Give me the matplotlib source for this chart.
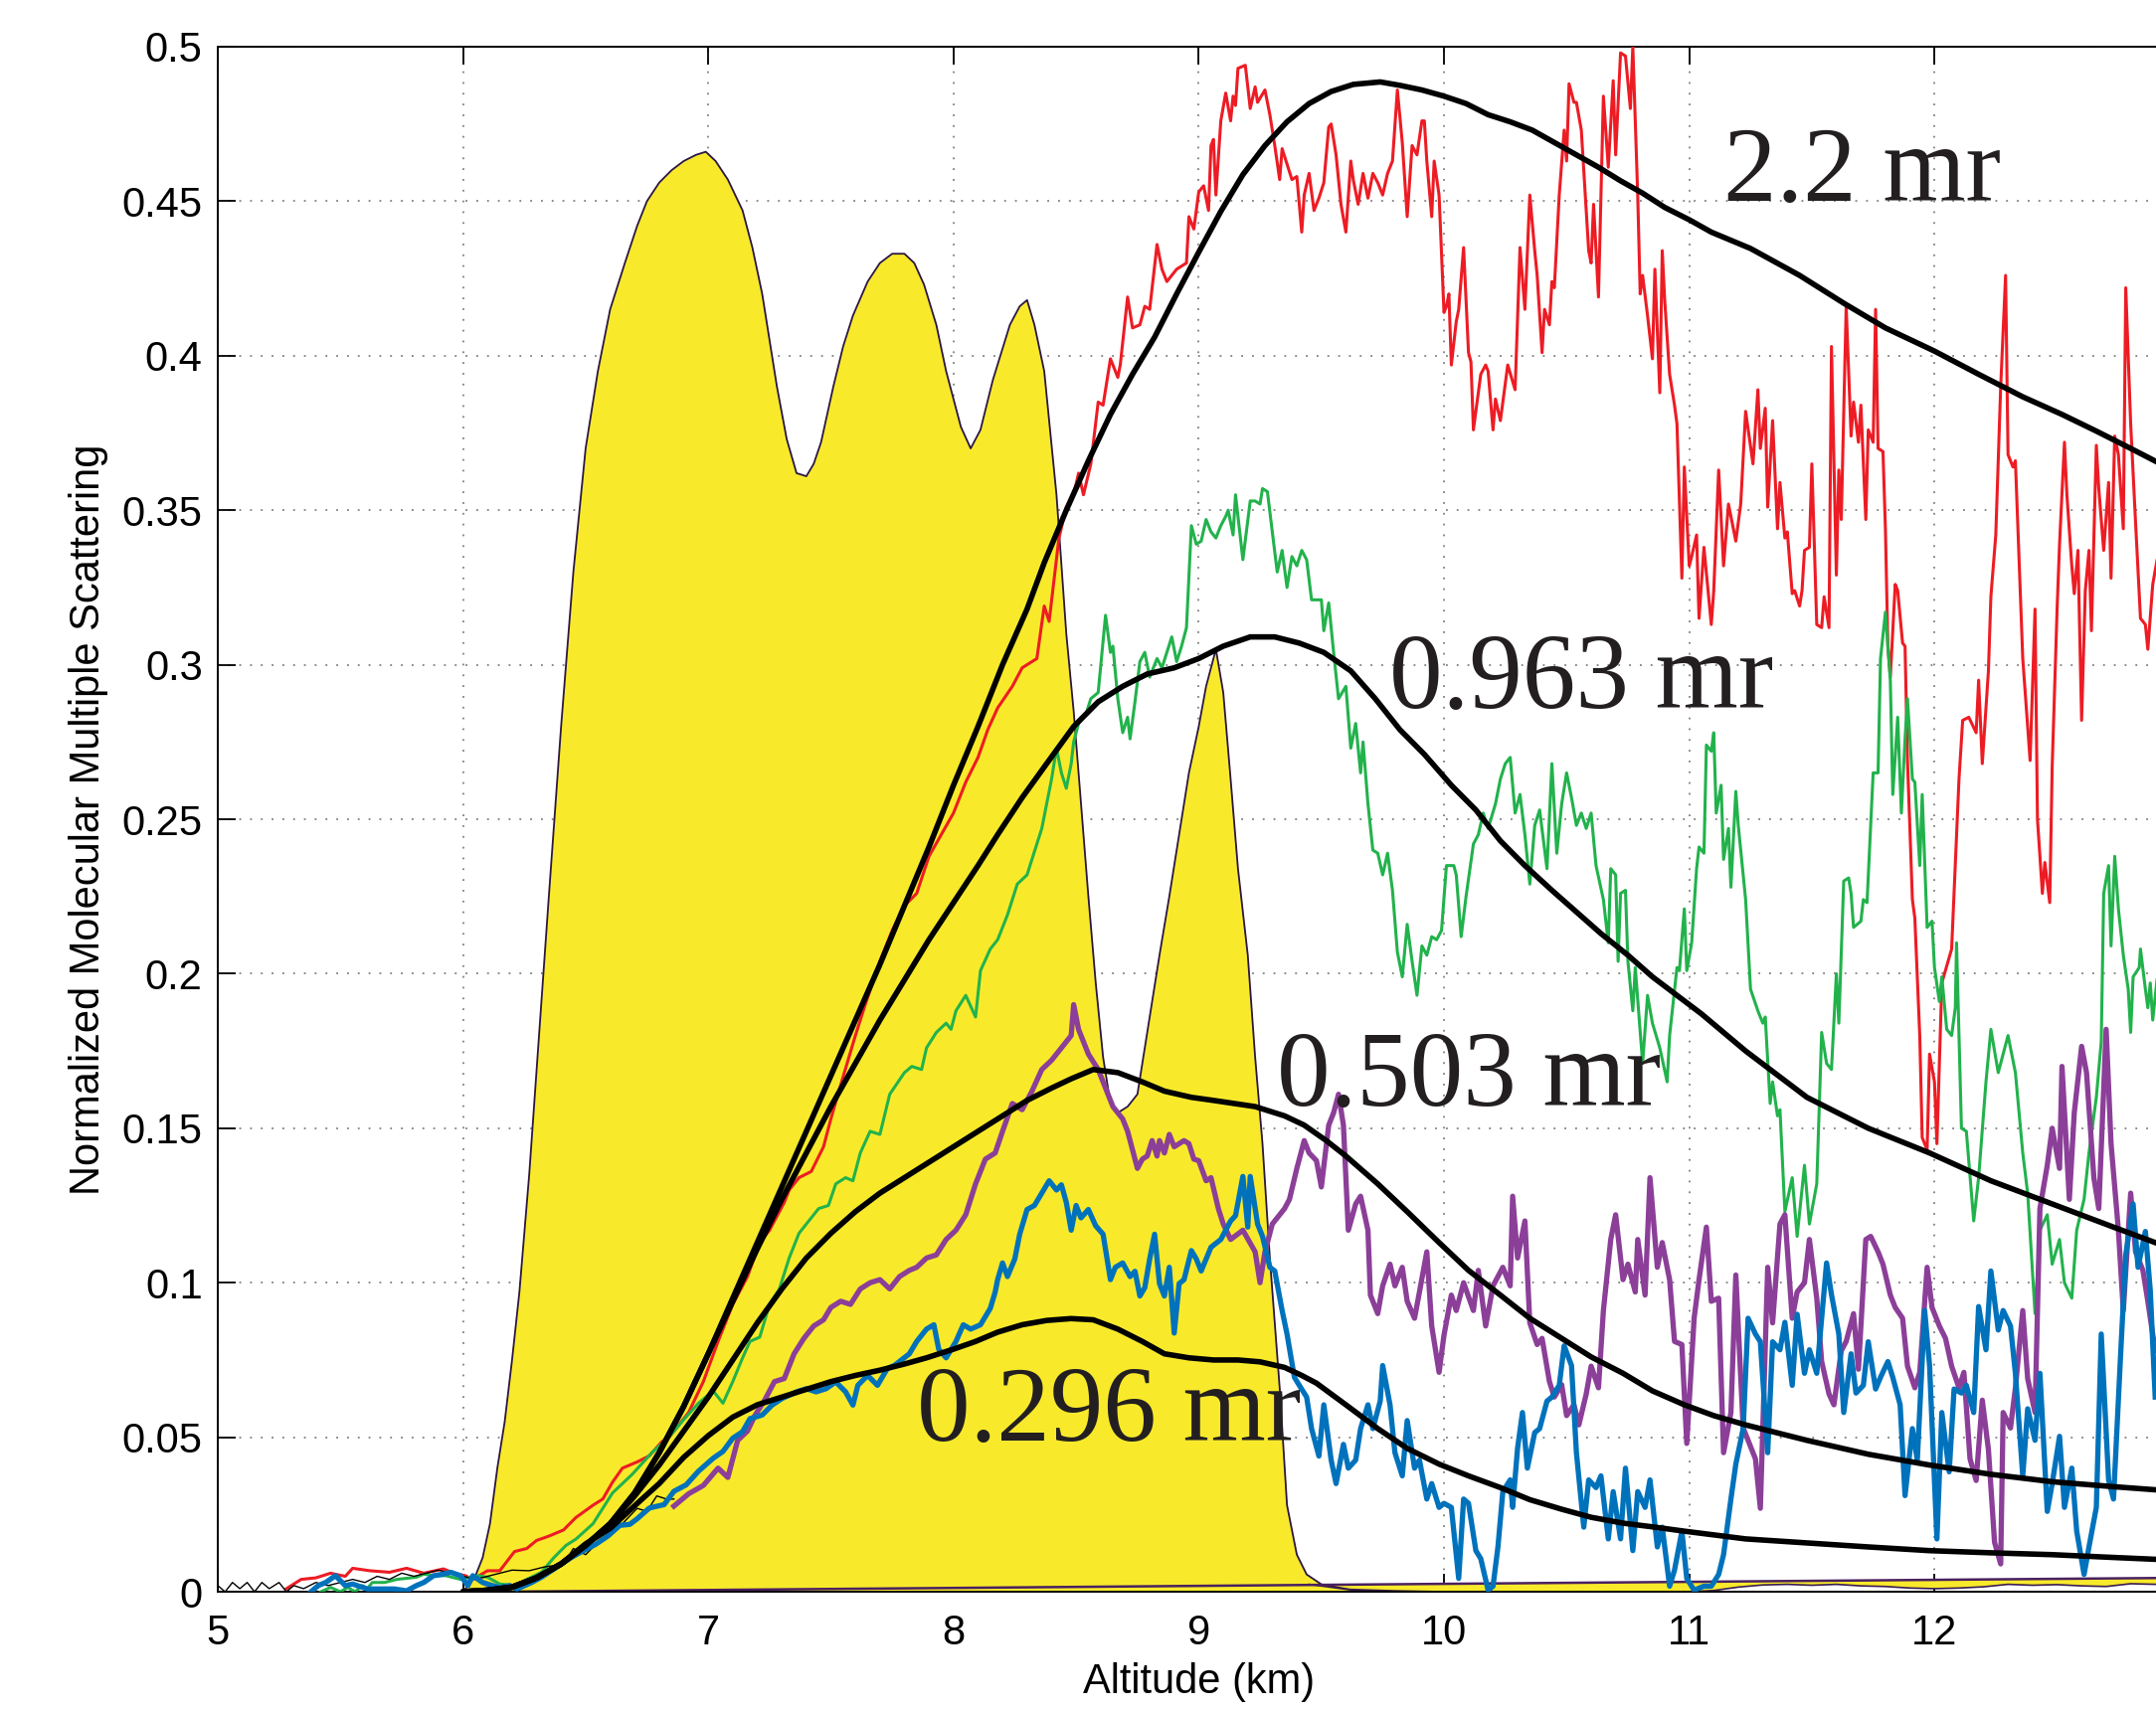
import matplotlib
matplotlib.use('Agg')
import matplotlib.pyplot as plt
import numpy as np

plt.rcParams['font.family'] = ['Liberation Sans', 'DejaVu Sans']

# cloud profile (yellow area), (altitude km, value)
cloud = [(5.0,0.0),(6.0,0.0),(6.05,0.005),(6.08,0.011),(6.11,0.022),(6.14,0.040),(6.17,0.055),(6.20,0.075),(6.23,0.097),(6.27,0.135),
         (6.31,0.180),(6.35,0.225),(6.40,0.280),(6.45,0.330),(6.50,0.370),(6.55,0.395),(6.60,0.415),(6.66,0.430),(6.71,0.442),(6.75,0.450),
         (6.80,0.456),(6.85,0.460),(6.90,0.463),(6.95,0.465),(6.99,0.466),(7.03,0.463),(7.08,0.457),(7.14,0.447),(7.18,0.435),(7.22,0.420),
         (7.25,0.405),(7.28,0.390),(7.32,0.373),(7.36,0.362),(7.40,0.361),(7.43,0.365),(7.46,0.372),(7.51,0.390),(7.55,0.403),(7.59,0.413),
         (7.65,0.424),(7.70,0.430),(7.75,0.433),(7.80,0.433),(7.84,0.430),(7.88,0.423),(7.93,0.410),(7.97,0.395),(8.03,0.377),(8.07,0.370),
         (8.11,0.376),(8.16,0.392),(8.23,0.410),(8.27,0.416),(8.30,0.418),(8.33,0.410),(8.37,0.395),(8.42,0.355),(8.46,0.310),(8.49,0.285),
         (8.52,0.255),(8.55,0.225),(8.58,0.197),(8.61,0.173),(8.64,0.158),(8.67,0.155),(8.71,0.157),(8.75,0.161),(8.79,0.181),(8.84,0.206),
         (8.88,0.225),(8.92,0.245),(8.96,0.265),(9.00,0.280),(9.03,0.293),(9.07,0.305),(9.10,0.291),(9.13,0.263),(9.16,0.234),(9.20,0.206),
         (9.23,0.173),(9.26,0.145),(9.29,0.108),(9.33,0.066),(9.36,0.028),(9.40,0.012),(9.44,0.0056),(9.50,0.0024),(9.63,0.0005),(9.75,0.0)]
cloud_floor = [(9.45,0.0024),(9.6,0.0008),(9.8,0.0003),(10.0,0.0),(10.5,0.0),(11.0,0.0),(11.1,0.0004),(11.2,0.0015),(11.3,0.0022),
               (11.4,0.0024),(11.5,0.0021),(11.6,0.0024),(11.7,0.0019),(11.8,0.0017),(11.9,0.0012),(12.0,0.0010),(12.1,0.0012),
               (12.2,0.0016),(12.3,0.0024),(12.4,0.0021),(12.5,0.0023),(12.6,0.0019),(12.7,0.0017),(12.8,0.0026),(12.9,0.0024),(13.0,0.0025)]
cloud_top = [(6.15,0.0),(9.45,0.0022),(13.0,0.0045)]

# measured, 2.2 mr
red = [(5.28,0.001),(5.34,0.004),(5.40,0.0045),(5.46,0.006),(5.52,0.005),(5.55,0.0076),(5.62,0.0068),(5.70,0.0063),(5.77,0.0076),(5.84,0.006),
       (5.92,0.0074),(5.97,0.0058),(6.01,0.0052),(6.04,0.004),(6.10,0.0068),(6.15,0.0068),(6.21,0.013),(6.26,0.014),(6.30,0.0166),(6.35,0.018),
       (6.41,0.020),(6.46,0.024),(6.53,0.028),(6.57,0.030),(6.61,0.0355),(6.65,0.040),(6.71,0.042),(6.76,0.044),(6.81,0.0485),(6.84,0.050),
       (6.92,0.058),(6.98,0.068),(7.04,0.081),(7.10,0.093),(7.16,0.102),(7.21,0.113),(7.25,0.117),(7.31,0.126),(7.33,0.130),(7.37,0.134),
       (7.42,0.136),(7.47,0.144),(7.50,0.153),(7.54,0.164),(7.60,0.180),(7.64,0.190),(7.70,0.204),(7.75,0.214),(7.80,0.222),(7.85,0.226),
       (7.90,0.238),(7.95,0.245),(8.00,0.252),(8.05,0.262),(8.10,0.270),(8.14,0.279),(8.18,0.286),(8.24,0.293),(8.28,0.299),(8.34,0.302),
       (8.37,0.319),(8.39,0.314),(8.43,0.341),(8.46,0.351),(8.49,0.355),(8.51,0.362),(8.53,0.355),(8.56,0.365),(8.59,0.385),(8.61,0.384),
       (8.64,0.399),(8.67,0.393),(8.68,0.397),(8.71,0.419),(8.73,0.409),(8.76,0.410),(8.78,0.416),(8.80,0.415),(8.83,0.436),(8.85,0.428),
       (8.87,0.424),(8.91,0.428),(8.95,0.430),(8.96,0.445),(8.98,0.441),(9.00,0.453),(9.02,0.455),(9.04,0.447),(9.05,0.468),(9.06,0.470),
       (9.07,0.452),(9.09,0.476),(9.11,0.485),(9.13,0.476),(9.14,0.484),(9.15,0.481),(9.16,0.493),(9.19,0.494),(9.21,0.480),(9.23,0.487),
       (9.24,0.482),(9.27,0.486),(9.29,0.478),(9.31,0.468),(9.33,0.457),(9.34,0.467),(9.36,0.462),(9.38,0.457),(9.40,0.458),(9.42,0.440),
       (9.43,0.452),(9.45,0.459),(9.47,0.447),(9.49,0.451),(9.51,0.456),(9.53,0.474),(9.54,0.475),(9.56,0.465),(9.58,0.449),(9.60,0.440),
       (9.62,0.463),(9.63,0.457),(9.65,0.449),(9.67,0.459),(9.69,0.451),(9.71,0.459),(9.73,0.456),(9.75,0.452),(9.77,0.459),(9.79,0.463),
       (9.81,0.486),(9.83,0.469),(9.85,0.445),(9.87,0.468),(9.89,0.465),(9.91,0.476),(9.92,0.476),(9.93,0.463),(9.95,0.445),(9.96,0.463),
       (9.98,0.452),(10.00,0.414),(10.01,0.416),(10.02,0.420),(10.03,0.397),(10.05,0.411),(10.06,0.415),(10.08,0.435),(10.10,0.401),(10.11,0.398),
       (10.12,0.376),(10.15,0.394),(10.17,0.397),(10.18,0.395),(10.20,0.376),(10.21,0.386),(10.23,0.379),(10.26,0.397),(10.29,0.389),(10.31,0.435),
       (10.33,0.415),(10.35,0.452),(10.37,0.434),(10.38,0.426),(10.40,0.401),(10.41,0.415),(10.43,0.410),(10.44,0.424),(10.45,0.422),(10.47,0.452),
       (10.49,0.473),(10.50,0.463),(10.51,0.488),(10.53,0.482),(10.54,0.482),(10.56,0.473),(10.59,0.434),(10.60,0.430),(10.61,0.449),(10.63,0.419),
       (10.65,0.484),(10.67,0.461),(10.69,0.489),(10.70,0.465),(10.72,0.498),(10.74,0.497),(10.76,0.480),(10.77,0.500),(10.79,0.452),(10.80,0.420),
       (10.81,0.426),(10.83,0.413),(10.85,0.399),(10.86,0.428),(10.88,0.388),(10.89,0.434),(10.90,0.418),(10.92,0.394),(10.94,0.384),(10.95,0.378),
       (10.97,0.328),(10.98,0.364),(11.00,0.332),(11.01,0.335),(11.03,0.342),(11.04,0.315),(11.06,0.338),(11.09,0.313),(11.10,0.324),(11.12,0.363),
       (11.14,0.332),(11.16,0.352),(11.19,0.340),(11.21,0.352),(11.23,0.382),(11.26,0.365),(11.28,0.389),(11.29,0.370),(11.31,0.383),(11.32,0.351),
       (11.34,0.379),(11.36,0.344),(11.37,0.359),(11.39,0.341),(11.40,0.343),(11.42,0.323),(11.43,0.324),(11.45,0.319),(11.46,0.324),(11.47,0.337),
       (11.49,0.338),(11.50,0.365),(11.52,0.313),(11.54,0.312),(11.55,0.322),(11.57,0.312),(11.58,0.403),(11.60,0.329),(11.61,0.363),(11.62,0.347),
       (11.64,0.416),(11.66,0.374),(11.67,0.385),(11.69,0.372),(11.70,0.384),(11.72,0.347),(11.73,0.376),(11.75,0.372),(11.76,0.415),(11.77,0.370),
       (11.79,0.369),(11.80,0.344),(11.81,0.306),(11.82,0.296),(11.84,0.326),(11.85,0.324),(11.87,0.307),(11.88,0.306),(11.89,0.269),(11.91,0.224),
       (11.92,0.218),(11.94,0.180),(11.95,0.147),(11.97,0.143),(11.98,0.174),(12.00,0.165),(12.01,0.145),(12.03,0.197),(12.07,0.208),(12.10,0.263),
       (12.115,0.282),(12.14,0.283),(12.17,0.278),(12.18,0.295),(12.195,0.268),(12.22,0.298),(12.23,0.322),(12.25,0.342),(12.27,0.390),(12.29,0.426),
       (12.30,0.368),(12.32,0.364),(12.33,0.366),(12.36,0.302),(12.37,0.291),(12.39,0.269),(12.41,0.318),(12.42,0.250),(12.44,0.226),(12.45,0.236),
       (12.47,0.223),(12.48,0.267),(12.50,0.318),(12.51,0.339),(12.53,0.372),(12.54,0.355),(12.56,0.332),(12.57,0.323),(12.585,0.337),(12.60,0.282),
       (12.615,0.324),(12.63,0.337),(12.64,0.311),(12.66,0.371),(12.67,0.357),(12.69,0.337),(12.71,0.359),(12.72,0.328),(12.735,0.374),(12.75,0.368),
       (12.77,0.344),(12.78,0.422),(12.80,0.378),(12.82,0.346),(12.84,0.315),(12.86,0.313),(12.87,0.305),(12.89,0.326),(12.91,0.335)]

# measured, 0.963 mr
green = [(5.42,0.0),(5.46,0.0014),(5.50,0.0),(5.53,0.0014),(5.56,0.0),(5.59,0.002),(5.61,0.001),(5.63,0.003),(5.68,0.003),(5.73,0.004),
         (5.81,0.0047),(5.84,0.0057),(5.88,0.0052),(5.93,0.0052),(5.99,0.004),(6.06,0.0052),(6.10,0.0047),(6.15,0.0025),(6.21,0.002),(6.26,0.004),
         (6.32,0.0063),(6.37,0.011),(6.42,0.015),(6.46,0.017),(6.53,0.022),(6.61,0.032),(6.69,0.038),(6.77,0.045),(6.84,0.050),(6.90,0.0557),
         (6.96,0.061),(7.02,0.065),(7.06,0.061),(7.10,0.068),(7.14,0.0757),(7.17,0.081),(7.21,0.0824),(7.25,0.093),(7.29,0.098),(7.33,0.108),
         (7.37,0.116),(7.41,0.120),(7.45,0.124),(7.49,0.125),(7.52,0.132),(7.56,0.134),(7.59,0.133),(7.62,0.142),(7.66,0.149),(7.70,0.148),
         (7.74,0.161),(7.80,0.168),(7.83,0.170),(7.87,0.169),(7.89,0.176),(7.93,0.181),(7.97,0.184),(7.99,0.182),(8.01,0.188),(8.05,0.193),
         (8.09,0.186),(8.11,0.201),(8.15,0.208),(8.18,0.211),(8.22,0.219),(8.26,0.229),(8.30,0.232),(8.32,0.237),(8.36,0.247),(8.38,0.255),
         (8.40,0.263),(8.42,0.273),(8.44,0.265),(8.46,0.260),(8.48,0.268),(8.49,0.275),(8.51,0.281),(8.54,0.284),(8.56,0.289),(8.59,0.291),
         (8.62,0.316),(8.64,0.304),(8.65,0.306),(8.67,0.289),(8.69,0.278),(8.71,0.283),(8.72,0.276),(8.74,0.288),(8.76,0.301),(8.78,0.304),
         (8.80,0.296),(8.83,0.302),(8.85,0.299),(8.87,0.304),(8.89,0.309),(8.91,0.301),(8.93,0.306),(8.95,0.312),(8.97,0.345),(8.99,0.339),
         (9.01,0.340),(9.03,0.347),(9.05,0.343),(9.07,0.341),(9.09,0.345),(9.11,0.348),(9.12,0.350),(9.14,0.342),(9.15,0.355),(9.18,0.334),
         (9.21,0.353),(9.23,0.353),(9.25,0.352),(9.26,0.357),(9.28,0.356),(9.30,0.343),(9.32,0.330),(9.34,0.337),(9.36,0.325),(9.38,0.335),
         (9.40,0.332),(9.42,0.337),(9.44,0.334),(9.46,0.321),(9.48,0.321),(9.50,0.321),(9.51,0.311),(9.53,0.320),(9.55,0.304),(9.57,0.289),
         (9.60,0.293),(9.62,0.273),(9.64,0.281),(9.66,0.265),(9.67,0.275),(9.69,0.255),(9.71,0.240),(9.73,0.239),(9.75,0.232),(9.77,0.239),
         (9.79,0.227),(9.81,0.207),(9.83,0.199),(9.85,0.216),(9.87,0.204),(9.89,0.193),(9.91,0.209),(9.93,0.206),(9.95,0.212),(9.97,0.211),
         (9.99,0.214),(10.01,0.235),(10.04,0.235),(10.05,0.232),(10.07,0.212),(10.09,0.225),(10.12,0.242),(10.14,0.245),(10.16,0.252),(10.18,0.247),
         (10.21,0.255),(10.23,0.263),(10.25,0.268),(10.27,0.270),(10.29,0.252),(10.31,0.258),(10.33,0.245),(10.35,0.229),(10.37,0.248),(10.39,0.253),
         (10.42,0.234),(10.44,0.268),(10.46,0.239),(10.48,0.255),(10.50,0.265),(10.52,0.257),(10.54,0.248),(10.56,0.252),(10.58,0.247),(10.60,0.252),
         (10.62,0.235),(10.65,0.224),(10.67,0.210),(10.68,0.234),(10.70,0.232),(10.71,0.204),(10.72,0.226),(10.74,0.227),(10.75,0.204),(10.77,0.188),
         (10.78,0.202),(10.81,0.171),(10.83,0.193),(10.85,0.184),(10.88,0.176),(10.91,0.165),(10.92,0.180),(10.95,0.202),(10.96,0.201),(10.98,0.221),
         (10.99,0.201),(11.01,0.210),(11.03,0.234),(11.04,0.241),(11.06,0.239),(11.07,0.274),(11.09,0.272),(11.10,0.278),(11.11,0.252),(11.13,0.261),
         (11.14,0.237),(11.16,0.247),(11.17,0.228),(11.19,0.259),(11.20,0.248),(11.23,0.224),(11.25,0.195),(11.28,0.188),(11.30,0.184),(11.31,0.186),
         (11.33,0.158),(11.34,0.165),(11.36,0.154),(11.37,0.156),(11.39,0.123),(11.42,0.134),(11.44,0.115),(11.47,0.138),(11.49,0.119),(11.52,0.132),
         (11.54,0.181),(11.56,0.171),(11.58,0.169),(11.60,0.200),(11.61,0.184),(11.63,0.230),(11.65,0.231),(11.66,0.226),(11.67,0.215),(11.70,0.217),
         (11.71,0.224),(11.725,0.223),(11.75,0.265),(11.77,0.265),(11.78,0.302),(11.80,0.317),(11.82,0.295),(11.83,0.258),(11.85,0.283),(11.865,0.252),
         (11.88,0.276),(11.89,0.289),(11.91,0.263),(11.92,0.262),(11.94,0.235),(11.95,0.258),(11.97,0.215),(11.99,0.217),(12.00,0.202),(12.02,0.191),
         (12.03,0.199),(12.05,0.182),(12.07,0.180),(12.085,0.189),(12.09,0.210),(12.11,0.150),(12.13,0.149),(12.16,0.120),(12.18,0.134),(12.21,0.165),
         (12.23,0.182),(12.26,0.168),(12.28,0.174),(12.30,0.180),(12.33,0.168),(12.36,0.142),(12.38,0.129),(12.41,0.090),(12.43,0.117),(12.46,0.122),
         (12.48,0.106),(12.51,0.114),(12.53,0.100),(12.56,0.095),(12.58,0.117),(12.61,0.127),(12.63,0.142),(12.66,0.160),(12.68,0.178),(12.69,0.226),
         (12.71,0.235),(12.72,0.209),(12.735,0.238),(12.75,0.221),(12.77,0.206),(12.79,0.195),(12.80,0.181),(12.81,0.199),(12.835,0.202),(12.84,0.208),
         (12.86,0.195),(12.87,0.189),(12.88,0.197),(12.89,0.185),(12.91,0.200)]

# measured, 0.503 mr (below 6.86 km drawn as thin black)
purple_low = [(5.00,0.002),(5.03,0.0),(5.06,0.003),(5.09,0.001),(5.12,0.003),(5.15,0.0),(5.18,0.003),(5.21,0.001),(5.25,0.003),(5.28,0.0),
              (5.31,0.002),(5.35,0.001),(5.40,0.003),(5.45,0.002),(5.50,0.003),(5.55,0.004),(5.60,0.003),(5.65,0.005),(5.70,0.004),(5.75,0.006),
              (5.80,0.005),(5.85,0.006),(5.90,0.007),(5.95,0.006),(6.00,0.005),(6.05,0.004),(6.10,0.005),(6.15,0.006),(6.20,0.007),(6.27,0.0068),
              (6.33,0.008),(6.41,0.0089),(6.45,0.014),(6.50,0.012),(6.55,0.016),(6.60,0.018),(6.65,0.022),(6.71,0.027),(6.75,0.026),(6.79,0.031),
              (6.83,0.030),(6.86,0.030)]
purple = [(6.86,0.0277),(6.92,0.0317),(6.98,0.0344),(7.04,0.040),(7.08,0.037),(7.12,0.049),(7.16,0.052),(7.19,0.057),(7.23,0.062),(7.27,0.068),
          (7.31,0.069),(7.35,0.077),(7.39,0.082),(7.43,0.086),(7.47,0.088),(7.50,0.092),(7.54,0.094),(7.58,0.093),(7.62,0.098),(7.66,0.100),
          (7.70,0.101),(7.74,0.098),(7.78,0.102),(7.82,0.104),(7.85,0.105),(7.89,0.108),(7.93,0.109),(7.97,0.114),(8.01,0.117),(8.05,0.122),
          (8.09,0.132),(8.13,0.140),(8.17,0.142),(8.20,0.149),(8.24,0.158),(8.28,0.156),(8.32,0.162),(8.36,0.169),(8.40,0.172),(8.44,0.176),
          (8.48,0.180),(8.49,0.190),(8.51,0.182),(8.55,0.174),(8.59,0.169),(8.61,0.165),(8.65,0.157),(8.69,0.153),(8.71,0.149),(8.75,0.137),
          (8.77,0.140),(8.79,0.141),(8.81,0.146),(8.83,0.141),(8.84,0.146),(8.86,0.142),(8.88,0.148),(8.90,0.144),(8.94,0.146),(8.96,0.145),
          (8.98,0.140),(9.00,0.1395),(9.03,0.133),(9.05,0.134),(9.08,0.124),(9.10,0.119),(9.13,0.114),(9.18,0.117),(9.23,0.110),(9.25,0.100),
          (9.27,0.110),(9.30,0.119),(9.33,0.122),(9.35,0.124),(9.37,0.127),(9.40,0.137),(9.43,0.146),(9.45,0.142),(9.48,0.1395),(9.50,0.131),
          (9.53,0.151),(9.55,0.155),(9.57,0.161),(9.59,0.151),(9.61,0.117),(9.64,0.1255),(9.66,0.128),(9.69,0.117),(9.70,0.096),(9.73,0.090),
          (9.75,0.099),(9.78,0.106),(9.80,0.099),(9.83,0.105),(9.85,0.094),(9.88,0.0885),(9.90,0.097),(9.93,0.110),(9.95,0.086),(9.98,0.071),
          (10.00,0.083),(10.03,0.096),(10.05,0.091),(10.08,0.100),(10.12,0.091),(10.14,0.104),(10.17,0.086),(10.20,0.099),(10.24,0.105),(10.27,0.099),
          (10.28,0.128),(10.30,0.108),(10.33,0.120),(10.35,0.087),(10.38,0.080),(10.40,0.082),(10.43,0.068),(10.45,0.063),(10.48,0.067),(10.50,0.057),
          (10.53,0.0605),(10.55,0.054),(10.58,0.064),(10.60,0.073),(10.63,0.066),(10.65,0.091),(10.68,0.114),(10.70,0.122),(10.73,0.101),(10.75,0.106),
          (10.78,0.097),(10.79,0.114),(10.82,0.096),(10.84,0.134),(10.87,0.105),(10.89,0.113),(10.92,0.101),(10.94,0.081),(10.97,0.080),(10.99,0.048),
          (11.02,0.0885),(11.04,0.101),(11.07,0.118),(11.09,0.094),(11.12,0.095),(11.14,0.045),(11.17,0.058),(11.19,0.1025),(11.22,0.053),(11.24,0.049),
          (11.27,0.043),(11.29,0.027),(11.32,0.105),(11.34,0.087),(11.37,0.119),(11.39,0.122),(11.42,0.0885),(11.44,0.097),(11.47,0.100),(11.49,0.114),
          (11.52,0.095),(11.54,0.0745),(11.57,0.064),(11.59,0.0605),(11.62,0.078),(11.64,0.081),(11.67,0.090),(11.69,0.072),(11.72,0.114),(11.74,0.115),
          (11.77,0.110),(11.79,0.106),(11.82,0.096),(11.84,0.092),(11.87,0.0885),(11.89,0.073),(11.92,0.066),(11.94,0.071),(11.97,0.105),(11.99,0.092),
          (12.02,0.086),(12.045,0.082),(12.07,0.073),(12.10,0.066),(12.12,0.071),(12.145,0.043),(12.17,0.036),(12.195,0.062),(12.22,0.046),(12.245,0.016),
          (12.27,0.009),(12.28,0.058),(12.31,0.053),(12.33,0.066),(12.36,0.091),(12.38,0.069),(12.41,0.058),(12.43,0.124),(12.46,0.138),(12.48,0.150),
          (12.51,0.137),(12.52,0.170),(12.55,0.127),(12.57,0.155),(12.60,0.1765),(12.62,0.168),(12.65,0.134),(12.67,0.124),(12.70,0.182),(12.72,0.145),
          (12.75,0.117),(12.77,0.091),(12.80,0.129),(12.82,0.110),(12.85,0.104),(12.87,0.094),(12.90,0.078)]

# measured, 0.296 mr
blue = [(5.38,0.0),(5.41,0.002),(5.44,0.003),(5.48,0.0052),(5.52,0.002),(5.55,0.0025),(5.61,0.0009),(5.66,0.0009),(5.72,0.0009),(5.77,0.0003),
        (5.81,0.002),(5.84,0.003),(5.88,0.0052),(5.92,0.0057),(5.95,0.0063),(5.99,0.0052),(6.02,0.002),(6.04,0.0052),(6.08,0.003),(6.12,0.002),
        (6.15,0.0014),(6.19,0.002),(6.22,0.0009),(6.28,0.003),(6.32,0.0047),(6.36,0.0068),(6.44,0.011),(6.48,0.0128),(6.54,0.0153),(6.59,0.018),
        (6.64,0.0215),(6.68,0.0218),(6.71,0.0236),(6.76,0.0271),(6.82,0.0282),(6.86,0.0325),(6.91,0.0346),(6.96,0.039),(7.02,0.0432),(7.06,0.0454),
        (7.10,0.0497),(7.14,0.0518),(7.17,0.056),(7.22,0.0572),(7.26,0.0604),(7.30,0.0625),(7.36,0.0647),(7.40,0.0657),(7.44,0.0647),(7.48,0.0657),
        (7.52,0.0679),(7.56,0.0647),(7.59,0.0604),(7.61,0.0668),(7.65,0.070),(7.69,0.0668),(7.73,0.0722),(7.76,0.0733),(7.82,0.077),(7.85,0.081),
        (7.89,0.085),(7.92,0.0864),(7.94,0.0784),(7.97,0.0757),(8.01,0.081),(8.04,0.0864),(8.07,0.085),(8.11,0.0864),(8.15,0.0917),(8.17,0.097),
        (8.18,0.101),(8.20,0.1064),(8.22,0.102),(8.25,0.1077),(8.27,0.1157),(8.30,0.1237),(8.33,0.125),(8.36,0.129),(8.39,0.133),(8.42,0.130),
        (8.44,0.1317),(8.46,0.126),(8.48,0.117),(8.50,0.125),(8.52,0.121),(8.55,0.1237),(8.58,0.1184),(8.61,0.1157),(8.64,0.101),(8.66,0.105),
        (8.69,0.1064),(8.72,0.102),(8.74,0.1037),(8.76,0.0957),(8.78,0.0984),(8.80,0.1077),(8.82,0.1157),(8.84,0.0997),(8.86,0.0957),(8.88,0.105),
        (8.90,0.0837),(8.92,0.0997),(8.94,0.101),(8.97,0.1104),(8.99,0.1077),(9.01,0.1038),(9.05,0.1115),(9.09,0.114),(9.13,0.120),(9.15,0.1217),
        (9.18,0.1344),(9.20,0.118),(9.21,0.1344),(9.24,0.119),(9.26,0.115),(9.29,0.105),(9.31,0.1038),(9.34,0.091),(9.36,0.0834),(9.39,0.0694),
        (9.41,0.0668),(9.44,0.063),(9.46,0.0528),(9.49,0.0439),(9.51,0.0605),(9.54,0.0426),(9.56,0.035),(9.59,0.0477),(9.61,0.040),(9.64,0.0426),
        (9.66,0.0528),(9.69,0.0605),(9.71,0.0528),(9.74,0.0617),(9.75,0.0732),(9.78,0.0605),(9.80,0.045),(9.83,0.0375),(9.85,0.0554),(9.88,0.040),
        (9.90,0.0426),(9.93,0.030),(9.95,0.035),(9.98,0.0273),(10.00,0.0286),(10.03,0.0273),(10.06,0.0043),(10.08,0.030),(10.10,0.0286),(10.13,0.0133),
        (10.15,0.0107),(10.18,0.0005),(10.20,0.0018),(10.22,0.0145),(10.24,0.0324),(10.27,0.0362),(10.28,0.0273),(10.30,0.0464),(10.32,0.058),(10.34,0.040),
        (10.37,0.0515),(10.39,0.0528),(10.42,0.0617),(10.44,0.063),(10.47,0.0668),(10.49,0.0796),(10.52,0.0732),(10.54,0.045),(10.57,0.0209),(10.59,0.0362),
        (10.62,0.0337),(10.64,0.0375),(10.67,0.0171),(10.69,0.0324),(10.72,0.0171),(10.74,0.040),(10.77,0.0133),(10.79,0.0324),(10.82,0.0273),(10.84,0.0362),
        (10.87,0.0145),(10.89,0.0209),(10.92,0.0018),(10.94,0.007),(10.97,0.0196),(10.99,0.0043),(11.02,0.0005),(11.06,0.0018),(11.09,0.0018),(11.12,0.0056),
        (11.14,0.012),(11.17,0.030),(11.19,0.0413),(11.22,0.0528),(11.24,0.0885),(11.27,0.0834),(11.29,0.0809),(11.32,0.045),(11.34,0.0809),(11.37,0.0783),
        (11.39,0.0872),(11.42,0.0668),(11.44,0.0898),(11.47,0.0707),(11.49,0.0783),(11.52,0.0707),(11.56,0.1064),(11.58,0.0962),(11.61,0.0834),(11.63,0.058),
        (11.66,0.077),(11.68,0.0643),(11.71,0.0668),(11.73,0.0809),(11.76,0.0656),(11.78,0.0694),(11.81,0.0745),(11.83,0.0694),(11.86,0.0605),(11.88,0.0311),
        (11.91,0.0528),(11.93,0.0426),(11.96,0.091),(11.98,0.0732),(12.01,0.0171),(12.03,0.058),(12.06,0.0388),(12.08,0.0656),(12.11,0.0643),(12.13,0.0668),
        (12.16,0.058),(12.18,0.0923),(12.21,0.0783),(12.23,0.1038),(12.26,0.0847),(12.28,0.091),(12.31,0.086),(12.33,0.0707),(12.36,0.0375),(12.38,0.0592),
        (12.41,0.049),(12.43,0.0707),(12.46,0.026),(12.48,0.035),(12.51,0.0503),(12.53,0.0273),(12.56,0.040),(12.58,0.0196),(12.61,0.0056),(12.63,0.0145),
        (12.66,0.0273),(12.68,0.0834),(12.71,0.0362),(12.73,0.030),(12.76,0.0783),(12.78,0.109),(12.81,0.1255),(12.83,0.105),(12.86,0.1166),(12.88,0.0974),
        (12.90,0.063)]

# model curves
model_22 = [(6.00,0.0),(6.10,0.0005),(6.20,0.0015),(6.30,0.0045),(6.40,0.009),(6.50,0.015),(6.60,0.022),(6.70,0.032),(6.80,0.045),(6.90,0.060),
            (7.00,0.077),(7.10,0.095),(7.20,0.113),(7.30,0.131),(7.40,0.149),(7.50,0.167),(7.60,0.185),(7.70,0.203),(7.80,0.222),(7.90,0.241),
            (8.00,0.261),(8.10,0.280),(8.20,0.300),(8.30,0.318),(8.37,0.333),(8.46,0.350),(8.55,0.366),(8.64,0.381),(8.73,0.394),(8.82,0.406),
            (8.91,0.420),(9.00,0.4335),(9.09,0.4467),(9.18,0.4586),(9.27,0.468),(9.36,0.4757),(9.45,0.4816),(9.54,0.4855),(9.63,0.4878),(9.74,0.4886),
            (9.82,0.4875),(9.91,0.486),(10.00,0.484),(10.09,0.4816),(10.18,0.478),(10.27,0.4757),(10.36,0.473),(10.45,0.469),(10.54,0.465),(10.63,0.461),
            (10.72,0.4566),(10.81,0.4526),(10.90,0.448),(11.00,0.444),(11.09,0.440),(11.25,0.4347),(11.45,0.426),(11.63,0.417),(11.80,0.409),(12.00,0.4015),
            (12.18,0.394),(12.36,0.3867),(12.52,0.381),(12.66,0.3756),(12.80,0.370),(12.91,0.3655),(13.0,0.362)]
model_963 = [(6.00,0.0),(6.10,0.0005),(6.20,0.0015),(6.30,0.0045),(6.40,0.009),(6.50,0.015),(6.60,0.022),(6.70,0.032),(6.80,0.045),(6.90,0.060),
             (7.00,0.077),(7.10,0.094),(7.20,0.111),(7.30,0.127),(7.40,0.142),(7.50,0.157),(7.60,0.171),(7.70,0.185),(7.80,0.198),(7.90,0.211),
             (8.00,0.223),(8.10,0.235),(8.18,0.245),(8.28,0.257),(8.38,0.268),(8.49,0.280),(8.59,0.288),(8.69,0.293),(8.79,0.297),(8.90,0.299),
             (9.00,0.302),(9.10,0.306),(9.21,0.309),(9.31,0.309),(9.41,0.307),(9.51,0.304),(9.62,0.298),(9.72,0.289),(9.82,0.279),(9.92,0.271),
             (10.03,0.261),(10.13,0.253),(10.23,0.243),(10.33,0.235),(10.44,0.227),(10.54,0.220),(10.64,0.213),(10.75,0.206),(10.85,0.199),(10.95,0.193),
             (11.05,0.187),(11.23,0.175),(11.48,0.160),(11.73,0.150),(11.98,0.142),(12.23,0.133),(12.48,0.1255),(12.73,0.118),(12.90,0.113),(13.0,0.110)]
model_503 = [(6.00,0.0),(6.10,0.0005),(6.20,0.0015),(6.30,0.0045),(6.40,0.009),(6.50,0.015),(6.60,0.022),(6.70,0.031),(6.80,0.041),(6.90,0.052),
             (7.00,0.063),(7.10,0.075),(7.20,0.087),(7.30,0.098),(7.40,0.108),(7.50,0.116),(7.60,0.123),(7.70,0.129),(7.80,0.134),(7.90,0.139),
             (8.00,0.144),(8.10,0.149),(8.20,0.154),(8.30,0.159),(8.40,0.163),(8.48,0.166),(8.57,0.169),(8.67,0.168),(8.77,0.165),(8.86,0.162),
             (8.97,0.160),(9.06,0.159),(9.23,0.157),(9.35,0.154),(9.43,0.151),(9.52,0.146),(9.60,0.141),(9.73,0.132),(9.85,0.123),(9.98,0.113),
             (10.10,0.104),(10.23,0.096),(10.35,0.0885),(10.48,0.082),(10.60,0.076),(10.73,0.0707),(10.85,0.065),(10.98,0.0605),(11.10,0.057),(11.23,0.054),
             (11.48,0.049),(11.73,0.0445),(11.98,0.041),(12.23,0.038),(12.48,0.0356),(12.73,0.034),(12.90,0.033),(13.0,0.0325)]
model_296 = [(6.00,0.0),(6.10,0.0005),(6.20,0.0015),(6.30,0.0045),(6.40,0.009),(6.50,0.0155),(6.60,0.0205),(6.73,0.030),(6.80,0.035),(6.90,0.0435),
             (7.00,0.0505),(7.10,0.0565),(7.20,0.0605),(7.30,0.063),(7.40,0.0655),(7.50,0.068),(7.60,0.070),(7.70,0.0717),(7.80,0.0737),(7.89,0.0757),
             (8.00,0.0785),(8.09,0.081),(8.18,0.084),(8.28,0.0864),(8.38,0.0878),(8.48,0.0884),(8.57,0.088),(8.67,0.085),(8.77,0.081),(8.86,0.077),
             (8.96,0.0757),(9.06,0.075),(9.16,0.075),(9.25,0.0744),(9.35,0.0726),(9.42,0.070),(9.48,0.0675),(9.54,0.064),(9.60,0.0605),(9.73,0.0528),
             (9.85,0.0464),(9.98,0.0413),(10.10,0.0375),(10.23,0.0337),(10.35,0.0298),(10.48,0.0267),(10.60,0.0241),(10.73,0.0222),(10.85,0.021),(10.98,0.0196),
             (11.23,0.0171),(11.48,0.0158),(11.73,0.0145),(11.98,0.0133),(12.23,0.0126),(12.48,0.012),(12.70,0.0112),(12.90,0.0105),(13.0,0.0102)]

# curve labels: (text, altitude, value)
labels = [('2.2 mr', 11.14, 0.450), ('0.963 mr', 9.775, 0.286), ('0.503 mr', 9.32, 0.1574), ('0.296 mr', 7.85, 0.0488)]

xticks = [5, 6, 7, 8, 9, 10, 11, 12]
yticks = [0, 0.05, 0.1, 0.15, 0.2, 0.25, 0.3, 0.35, 0.4, 0.45, 0.5]
ytick_labels = ['0', '0.05', '0.1', '0.15', '0.2', '0.25', '0.3', '0.35', '0.4', '0.45', '0.5']


def xy(pairs):
    a = np.array(pairs)
    return a[:, 0], a[:, 1]


fig = plt.figure(figsize=(21.68, 17.21), dpi=100)
# the original axes runs to 13 km and is cut by the picture edge near 12.9
ax = fig.add_axes([0.101, 0.0697, 0.910, 0.9030])

cx, cy = xy(cloud)
ax.fill_between(cx, cy, 0, color='#f8ea2b', lw=0, zorder=1)
ax.plot(cx, cy, color='#2b1640', lw=1.3, zorder=1.5)
fx, fy = xy(cloud_floor)
tx, ty = xy(cloud_top)
ax.fill(np.concatenate([fx, tx[::-1][:-1]]), np.concatenate([fy, ty[::-1][:-1]]),
        color='#f8ea2b', lw=0, zorder=1)
ax.plot(fx, fy, color='#3a1c4f', lw=1.2, zorder=1.5)
ax.plot(tx, ty, color='#4a2060', lw=1.8, zorder=1.5)

rx, ry = xy(red)
ax.plot(rx, ry, color='#ed1c24', lw=2.2, zorder=3)
gx, gy = xy(green)
ax.plot(gx, gy, color='#22b24c', lw=2.2, zorder=3)
px_, py_ = xy(purple_low)
ax.plot(px_, py_, color='black', lw=1.0, zorder=3)
px_, py_ = xy(purple)
ax.plot(px_, py_, color='#8b3f98', lw=3.8, zorder=4)
bx, by = xy(blue)
ax.plot(bx, by, color='#0072bc', lw=3.8, zorder=4)

for m in (model_22, model_963, model_503, model_296):
    mx, my = xy(m)
    ax.plot(mx, my, color='black', lw=4.0, zorder=5, solid_capstyle='round')

for txt, lx, ly in labels:
    ax.text(lx, ly, txt, fontsize=77, family=['Liberation Serif', 'DejaVu Serif'],
            color='#231f20', ha='left', va='baseline', zorder=6)

ax.set_xlim(5, 13)
ax.set_ylim(0, 0.5)
ax.set_xticks(xticks)
ax.set_yticks(yticks)
ax.set_yticklabels(ytick_labels)
ax.set_axisbelow(True)
ax.grid(True, color='#808080', linestyle=(0, (1, 5)), lw=1.3)
for s in ax.spines.values():
    s.set_linewidth(1.4)
ax.tick_params(direction='in', top=True, right=True, length=13, width=1.3, labelsize=30)
ax.tick_params(axis='x', pad=16)
ax.tick_params(axis='y', pad=11)
ax.set_xlabel('Altitude (km)', fontsize=30, labelpad=6)
ax.set_ylabel('Normalized Molecular Multiple Scattering', fontsize=30, labelpad=10)

fig.savefig('out.png', dpi=100)
